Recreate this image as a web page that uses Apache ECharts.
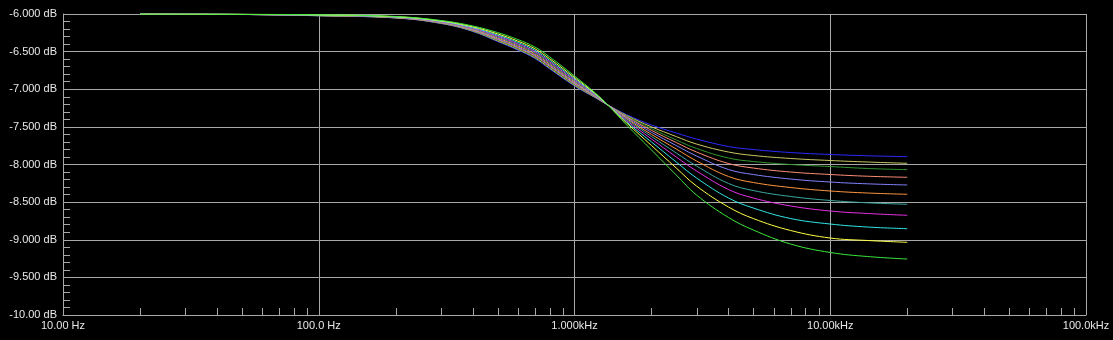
<!DOCTYPE html>
<html>
<head>
<meta charset="utf-8">
<script src="https://cdn.jsdelivr.net/npm/echarts@6/dist/echarts.min.js"></script>
<style>
html,body{margin:0;padding:0;background:#000;}
#c{width:1113px;height:340px;}
</style>
</head>
<body>
<div id="c"></div>
<script>
// Frequencies (Hz) at which each curve was read
const freqs = [20, 50, 100, 200, 300, 400, 500, 600, 700, 800, 1000, 1200, 1350, 1600, 2000, 2500, 3000, 4000, 5000, 7000, 10000, 14000, 20000];

// Response values (dB), one array per curve
const curveBlue    = [-6.000,-6.007,-6.024,-6.053,-6.126,-6.232,-6.366,-6.479,-6.592,-6.731,-6.957,-7.109,-7.209,-7.338,-7.475,-7.581,-7.661,-7.761,-7.801,-7.841,-7.867,-7.884,-7.896];
const curveKhaki   = [-6.000,-6.006,-6.023,-6.052,-6.123,-6.227,-6.357,-6.469,-6.581,-6.719,-6.948,-7.105,-7.209,-7.349,-7.499,-7.629,-7.728,-7.834,-7.880,-7.920,-7.947,-7.967,-7.984];
const curveDkGreen = [-6.000,-6.006,-6.022,-6.050,-6.120,-6.222,-6.349,-6.459,-6.570,-6.708,-6.938,-7.100,-7.209,-7.358,-7.523,-7.674,-7.787,-7.914,-7.960,-8.000,-8.027,-8.053,-8.069];
const curveSalmon  = [-6.000,-6.006,-6.021,-6.049,-6.117,-6.216,-6.339,-6.448,-6.558,-6.695,-6.928,-7.095,-7.209,-7.367,-7.546,-7.708,-7.834,-7.987,-8.047,-8.100,-8.133,-8.156,-8.170];
const curvePeri    = [-6.000,-6.006,-6.020,-6.047,-6.114,-6.210,-6.330,-6.437,-6.546,-6.683,-6.917,-7.090,-7.209,-7.379,-7.572,-7.748,-7.887,-8.066,-8.133,-8.193,-8.233,-8.257,-8.272];
const curveOrange  = [-6.000,-6.006,-6.019,-6.045,-6.110,-6.203,-6.318,-6.423,-6.531,-6.667,-6.904,-7.083,-7.209,-7.391,-7.600,-7.794,-7.953,-8.159,-8.239,-8.306,-8.352,-8.379,-8.396];
const curveTeal    = [-6.000,-6.005,-6.018,-6.043,-6.106,-6.196,-6.306,-6.409,-6.515,-6.651,-6.891,-7.076,-7.209,-7.403,-7.628,-7.847,-8.020,-8.252,-8.346,-8.425,-8.478,-8.509,-8.529];
const curveMagenta = [-6.000,-6.005,-6.016,-6.041,-6.102,-6.188,-6.294,-6.395,-6.500,-6.635,-6.877,-7.070,-7.209,-7.418,-7.661,-7.900,-8.086,-8.332,-8.445,-8.551,-8.618,-8.651,-8.675];
const curveCyan    = [-6.000,-6.005,-6.015,-6.039,-6.097,-6.180,-6.280,-6.378,-6.482,-6.616,-6.861,-7.062,-7.209,-7.435,-7.701,-7.967,-8.179,-8.445,-8.578,-8.718,-8.791,-8.831,-8.853];
const curveYellow  = [-6.000,-6.004,-6.013,-6.036,-6.092,-6.170,-6.264,-6.360,-6.462,-6.595,-6.844,-7.053,-7.209,-7.449,-7.748,-8.047,-8.286,-8.565,-8.718,-8.877,-8.977,-9.010,-9.034];
const curveGreen   = [-6.000,-6.004,-6.011,-6.033,-6.086,-6.159,-6.246,-6.339,-6.439,-6.571,-6.824,-7.043,-7.209,-7.475,-7.807,-8.140,-8.405,-8.704,-8.870,-9.057,-9.169,-9.223,-9.256];

// Minor tick positions on the frequency axis (Hz)
const xMinorTicks = [20,30,40,50,60,70,80,90, 200,300,400,500,600,700,800,900, 2000,3000,4000,5000,6000,7000,8000,9000, 20000,30000,40000,50000,60000,70000,80000,90000];

const curves = [
  {data: curveBlue, color: '#2a2aff'},
  {data: curveKhaki, color: '#c8c864'},
  {data: curveDkGreen, color: '#329632'},
  {data: curveSalmon, color: '#ff8c78'},
  {data: curvePeri, color: '#8282ff'},
  {data: curveOrange, color: '#ff9640'},
  {data: curveTeal, color: '#3ca8a0'},
  {data: curveMagenta, color: '#e632e6'},
  {data: curveCyan, color: '#32e6e6'},
  {data: curveYellow, color: '#ffff46'},
  {data: curveGreen, color: '#3ce63c'}
];

const gridColor = '#a8a8a8';
const textColor = '#e8e8e8';
const font = 'Liberation Sans, Arial, sans-serif';

function fmtX(v) {
  if (v >= 1000) return (v / 1000).toPrecision(4) + 'kHz';
  return Number(v).toPrecision(4) + ' Hz';
}
function fmtY(v) {
  return Number(v).toPrecision(4) + ' dB';
}

const series = curves.map(c => ({
  type: 'line',
  data: freqs.map((f, i) => [f, c.data[i]]),
  showSymbol: false,
  symbol: 'none',
  smooth: 0.4,
  lineStyle: {color: c.color, width: 1},
  itemStyle: {color: c.color},
  silent: true,
  z: 3
}));

series.push({
  type: 'custom',
  silent: true,
  z: 2,
  data: xMinorTicks.map(f => [f, -10]),
  encode: {x: 0, y: 1},
  renderItem: function (params, api) {
    const p = api.coord([api.value(0), api.value(1)]);
    const x = Math.round(p[0]) + 0.5;
    const y = Math.round(p[1]);
    return {
      type: 'line',
      shape: {x1: x, y1: y, x2: x, y2: y - 7},
      style: {stroke: gridColor, lineWidth: 1}
    };
  }
});

const chart = echarts.init(document.getElementById('c'), null, {renderer: 'canvas'});
chart.setOption({
  backgroundColor: '#000000',
  animation: false,
  grid: {left: 63, right: 27, top: 14, bottom: 25, containLabel: false},
  xAxis: {
    type: 'log',
    logBase: 10,
    min: 10,
    max: 100000,
    axisLine: {show: true, lineStyle: {color: gridColor, width: 1}},
    axisTick: {show: false},
    splitLine: {show: true, lineStyle: {color: gridColor, width: 1}},
    axisLabel: {
      color: textColor, fontSize: 11, fontFamily: font, margin: 5,
      formatter: fmtX, showMinLabel: true, showMaxLabel: true
    }
  },
  yAxis: {
    type: 'value',
    min: -10,
    max: -6,
    interval: 0.5,
    axisLine: {show: true, lineStyle: {color: gridColor, width: 1}},
    axisTick: {show: true, inside: true, length: 7, lineStyle: {color: gridColor}},
    minorTick: {show: true, splitNumber: 5, length: 7, lineStyle: {color: gridColor}},
    splitLine: {show: true, lineStyle: {color: gridColor, width: 1}},
    axisLabel: {
      color: textColor, fontSize: 11, fontFamily: font, margin: 6,
      formatter: fmtY
    }
  },
  series: series
});
</script>
</body>
</html>
